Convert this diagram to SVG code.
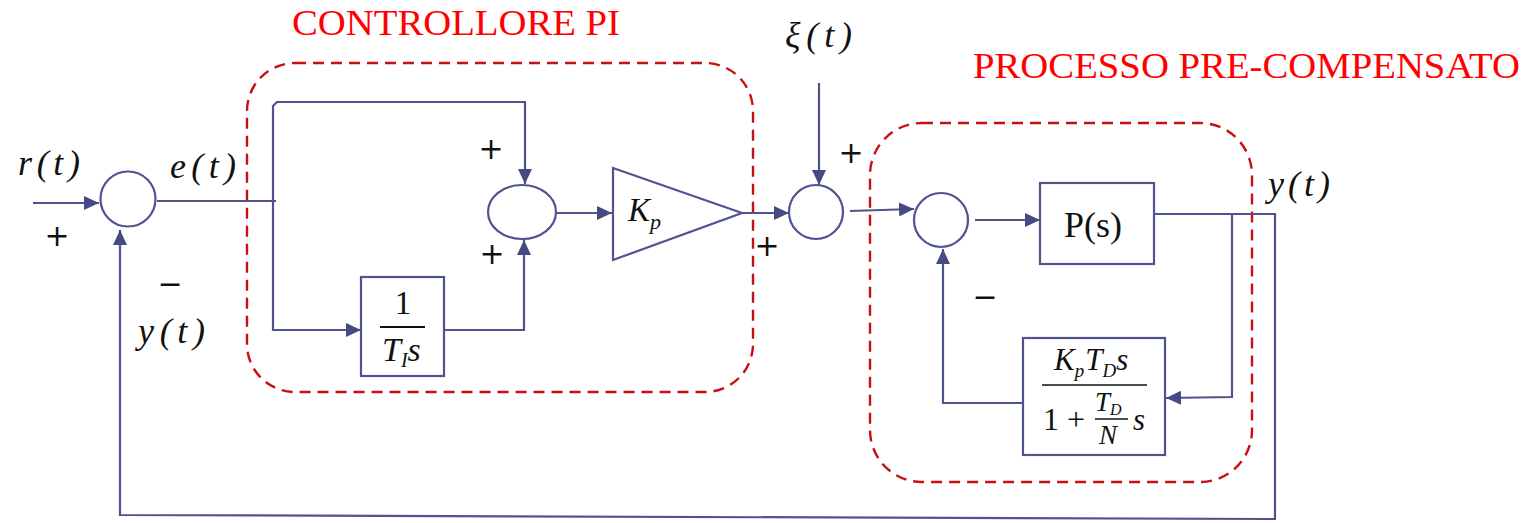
<svg xmlns="http://www.w3.org/2000/svg" width="1532" height="523" viewBox="0 0 1532 523">
<style>
.ln{fill:none;stroke:#4f5390;stroke-width:2.2}
.blk{fill:#fff;stroke:#4f5390;stroke-width:2.2}
.grp{fill:none;stroke:#c81010;stroke-width:2.4;stroke-dasharray:11 7}
.ttl{font-family:"Liberation Serif",serif;font-size:35px;fill:#ff0000}
.m{font-family:"Liberation Serif",serif;font-style:italic;fill:#111}
.r{font-family:"Liberation Serif",serif;fill:#111}
.sg{font-family:"DejaVu Sans",sans-serif;font-size:30px;fill:#111;text-anchor:middle;dominant-baseline:central}
</style>
<defs>
<marker id="ah" markerUnits="userSpaceOnUse" markerWidth="16" markerHeight="14" refX="15" refY="7" orient="auto">
<path d="M0,0 L15,7 L0,14 z" fill="#464a82"/>
</marker>
</defs>
<rect width="1532" height="523" fill="#fff"/>

<g id="groups">
<rect class="grp" x="247" y="63" width="506" height="329" rx="48"/>
<rect class="grp" x="870" y="123" width="382" height="359" rx="52"/>
<text class="ttl" x="292" y="35" textLength="328" lengthAdjust="spacingAndGlyphs">CONTROLLORE PI</text>
<text class="ttl" x="973" y="78" textLength="547" lengthAdjust="spacingAndGlyphs">PROCESSO PRE-COMPENSATO</text>
</g>

<g id="connectors">
<path class="ln" d="M33,203 H99" marker-end="url(#ah)"/>
<path class="ln" d="M157,201 H276"/>
<path class="ln" d="M273,201 V106 L277,102 H525 V184" marker-end="url(#ah)"/>
<path class="ln" d="M273,201 V330 H361" marker-end="url(#ah)"/>
<path class="ln" d="M434,330 H524 V240" marker-end="url(#ah)"/>
<path class="ln" d="M556,213 H612" marker-end="url(#ah)"/>
<path class="ln" d="M742,213 H789" marker-end="url(#ah)"/>
<path class="ln" d="M819,83 V185" marker-end="url(#ah)"/>
<path class="ln" d="M850,211 L914,209" marker-end="url(#ah)"/>
<path class="ln" d="M975,220 H1040" marker-end="url(#ah)"/>
<path class="ln" d="M1154,214 H1275 V519 L120,515 V230" marker-end="url(#ah)"/>
<path class="ln" d="M1232,214 V397 L1166,398" marker-end="url(#ah)"/>
<path class="ln" d="M1023,403 H943 V249" marker-end="url(#ah)"/>
</g>

<g id="sum1"><circle class="blk" cx="128" cy="199" r="27.5"/></g>
<g id="sum2"><ellipse class="blk" cx="522" cy="212" rx="34" ry="27"/></g>
<g id="sum3"><circle class="blk" cx="816" cy="212" r="27"/></g>
<g id="sum4"><circle class="blk" cx="941" cy="220" r="27"/></g>

<g id="integrator">
<rect class="blk" x="361" y="277" width="83" height="99"/>
<text class="r" x="403" y="314" text-anchor="middle" style="font-size:33px">1</text>
<line x1="380" y1="327" x2="425" y2="327" style="stroke:#111;stroke-width:2"/>
<text class="m" x="382" y="361" style="font-size:34px">T<tspan style="font-size:20px" dy="6">I</tspan><tspan dy="-6">s</tspan></text>
</g>

<g id="gain">
<path class="blk" d="M613,168 L742,213 L613,260 Z"/>
<text class="m" x="628" y="221" style="font-size:33px">K<tspan style="font-size:22px" dy="8">p</tspan></text>
</g>

<g id="plant">
<rect class="blk" x="1040" y="183" width="114" height="81"/>
<text class="r" x="1093" y="237" text-anchor="middle" style="font-size:36px">P(s)</text>
</g>

<g id="derivative">
<rect class="blk" x="1023" y="338" width="142" height="117"/>
<text class="m" x="1054" y="370" style="font-size:31px">K<tspan style="font-size:19px" dy="7">p</tspan><tspan dy="-7" dx="1">T</tspan><tspan style="font-size:19px" dy="7">D</tspan><tspan dy="-7">s</tspan></text>
<line x1="1042" y1="385" x2="1147" y2="385" style="stroke:#111;stroke-width:1.6"/>
<text class="r" x="1043" y="430" style="font-size:32px">1 +</text>
<text class="m" x="1095" y="411" style="font-size:27px">T<tspan style="font-size:16px" dy="4">D</tspan></text>
<line x1="1095" y1="419" x2="1128" y2="419" style="stroke:#111;stroke-width:1.4"/>
<text class="m" x="1099" y="444" style="font-size:27px">N</text>
<text class="m" x="1133" y="430" style="font-size:31px">s</text>
</g>

<g id="labels">
<text class="m" x="18" y="175" style="font-size:36px" textLength="62" lengthAdjust="spacing">r(t)</text>
<text class="m" x="170" y="178" style="font-size:36px" textLength="66" lengthAdjust="spacing">e(t)</text>
<text class="m" x="138" y="343" style="font-size:36px" textLength="67" lengthAdjust="spacing">y(t)</text>
<text class="m" x="785" y="47" style="font-size:36px" textLength="67" lengthAdjust="spacing">ξ(t)</text>
<text class="m" x="1268" y="196" style="font-size:36px" textLength="62" lengthAdjust="spacing">y(t)</text>
<text class="sg" x="57" y="235">+</text>
<text class="sg" x="491" y="148">+</text>
<text class="sg" x="492" y="253">+</text>
<text class="sg" x="851" y="152">+</text>
<text class="sg" x="767" y="245">+</text>
<text class="sg" x="170" y="283">−</text>
<text class="sg" x="985" y="296">−</text>
</g>
</svg>
